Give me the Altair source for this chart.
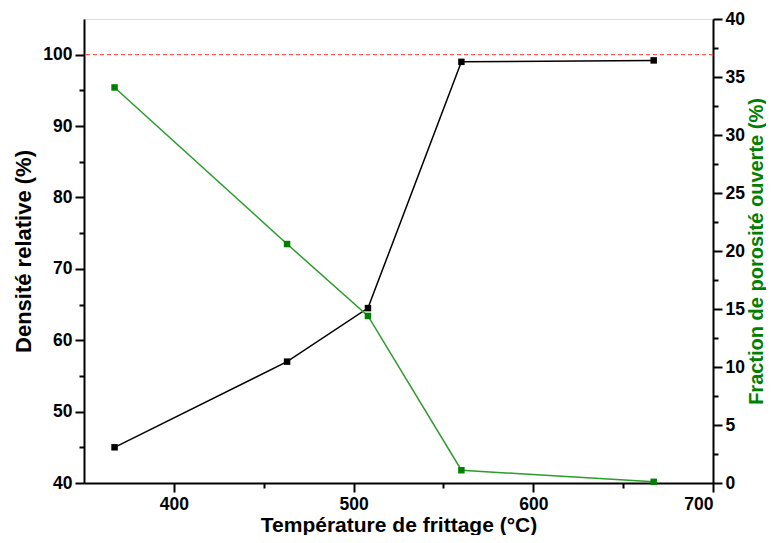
import altair as alt
import pandas as pd

temps = [367, 463, 508, 560, 667]
density = [45.0, 57.0, 64.5, 99.0, 99.2]
porosity = [34.1, 20.6, 14.4, 1.1, 0.1]
ref_density = 100

df = pd.DataFrame({"temp": temps, "density": density, "porosity": porosity})

FONT = "Liberation Sans"
GREEN_LINE = "#2a9d2a"
GREEN_PT = "#008000"

x_enc = alt.X(
    "temp:Q",
    scale=alt.Scale(domain=[350, 700], nice=False, zero=False),
    axis=alt.Axis(
        values=[400, 450, 500, 550, 600, 650, 700],
        labelExpr="datum.value % 100 === 0 ? datum.label : ''",
        tickSize={"condition": {"test": "datum.value % 100 === 0", "value": 9}, "value": 5},
        title="Température de frittage (°C)",
        titleFontSize=21, titleFont=FONT, titleFontWeight="bold", titleColor="black",
        labelFontSize=17.5, labelFont=FONT, labelFontWeight="bold", labelColor="black",
        domainColor="black", domainWidth=2, tickColor="black", tickWidth=2,
        grid=False, labelPadding=3, titlePadding=2,
    ),
)

left_axis = alt.Axis(
    values=list(range(40, 101, 5)),
    labelExpr="datum.value % 10 === 0 ? datum.label : ''",
    tickSize={"condition": {"test": "datum.value % 10 === 0", "value": 9}, "value": 5},
    title="Densité relative (%)",
    titleFontSize=22, titleFont=FONT, titleFontWeight="bold", titleColor="black",
    labelFontSize=17.5, labelFont=FONT, labelFontWeight="bold", labelColor="black",
    domainColor="black", domainWidth=2, tickColor="black", tickWidth=2,
    grid=False, labelPadding=3, titlePadding=7,
)
left_scale = alt.Scale(domain=[40, 105], nice=False, zero=False)

right_vals = [v * 2.5 for v in range(0, 17)]
right_axis = alt.Axis(
    orient="right",
    values=right_vals,
    labelExpr="datum.value % 5 === 0 ? datum.label : ''",
    tickSize={"condition": {"test": "datum.value % 5 === 0", "value": 9}, "value": 5},
    title="Fraction de porosité ouverte (%)",
    titleAngle=270,
    titleBaseline="top",
    titleFontSize=20, titleFont=FONT, titleFontWeight="bold", titleColor=GREEN_PT,
    labelFontSize=17.5, labelFont=FONT, labelFontWeight="bold", labelColor="black",
    domainColor="black", domainWidth=2, tickColor="black", tickWidth=2,
    grid=False, labelPadding=3, titlePadding=2,
)
right_scale = alt.Scale(domain=[0, 40], nice=False, zero=False)

base = alt.Chart(df)

dens_y = alt.Y("density:Q", scale=left_scale, axis=left_axis)
ref_rule = alt.Chart(pd.DataFrame({"ref": [ref_density]})).mark_rule(
    color="#ff3030", strokeWidth=1, strokeDash=[4, 3]
).encode(y=alt.Y("ref:Q", scale=left_scale, axis=left_axis))
dens_line = base.mark_line(color="black", strokeWidth=1.5).encode(x=x_enc, y=dens_y)
dens_pts = base.mark_point(shape="square", filled=True, size=42, color="black", opacity=1).encode(x=x_enc, y=dens_y)

por_y = alt.Y("porosity:Q", scale=right_scale, axis=right_axis)
por_line = base.mark_line(color=GREEN_LINE, strokeWidth=1.5).encode(x=x_enc, y=por_y)
por_pts = base.mark_point(shape="square", filled=True, size=42, color=GREEN_PT, opacity=1).encode(x=x_enc, y=por_y)

left_layer = alt.layer(ref_rule, dens_line, dens_pts)
right_layer = alt.layer(por_line, por_pts)

chart = alt.layer(left_layer, right_layer).resolve_scale(y="independent").properties(
    width=629,
    height=464,
    autosize=alt.AutoSizeParams(type="none"),
    padding={"left": 76, "top": 11, "right": 53, "bottom": 52},
).configure_view(stroke=None).configure(background="white")

chart.save("out.html", embed_options={"renderer": "svg", "actions": False})
